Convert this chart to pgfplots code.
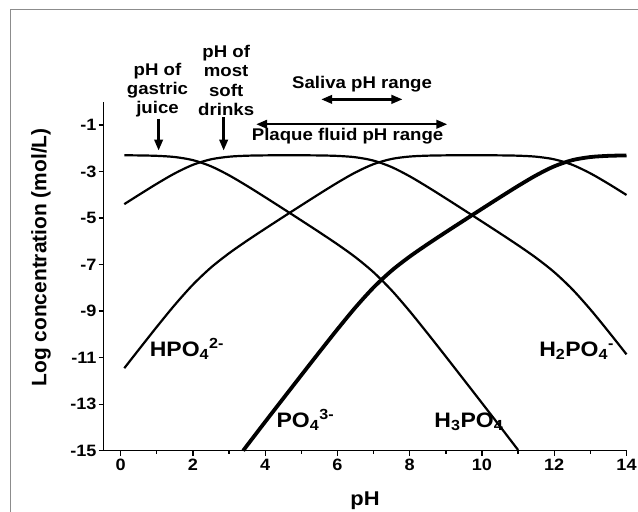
\documentclass[border=0pt]{standalone}
\usepackage{fontspec}
\setmainfont{Liberation Sans}[FakeStretch=1.1]
\newfontfamily\plainfont{Liberation Sans}
\usepackage{pgfplots}
\pgfplotsset{compat=1.18}
\usetikzlibrary{arrows.meta}

% log concentration of each phosphate species, total 10^-2.3 mol/L
\pgfplotstableread{
ph    c
0.1  -2.303
0.5  -2.309
1.0  -2.327
1.5  -2.379
2.0  -2.512
2.5  -2.776
3.0  -3.164
3.5  -3.621
4.0  -4.107
4.5  -4.603
5.0  -5.104
5.5  -5.610
6.0  -6.130
6.5  -6.688
7.0  -7.333
7.5  -8.110
8.0  -9.007
8.5  -9.969
9.0  -10.956
9.5  -11.953
10.0 -12.953
10.5 -13.957
11.0 -14.971
}\hthree

\pgfplotstableread{
ph    c
0.1  -4.403
0.5  -4.009
1.0  -3.527
1.5  -3.079
2.0  -2.712
2.5  -2.476
3.0  -2.364
3.5  -2.321
4.0  -2.307
4.5  -2.303
5.0  -2.304
5.5  -2.310
6.0  -2.330
6.5  -2.388
7.0  -2.533
7.5  -2.810
8.0  -3.207
8.5  -3.669
9.0  -4.156
9.5  -4.653
10.0 -5.153
10.5 -5.657
11.0 -6.171
11.5 -6.714
12.0 -7.327
12.5 -8.062
13.0 -8.929
13.5 -9.877
14.0 -10.859
}\htwo

\pgfplotstableread{
ph    c
0.1  -11.453
0.5  -10.659
1.0  -9.677
1.5  -8.729
2.0  -7.862
2.5  -7.126
3.0  -6.514
3.5  -5.971
4.0  -5.457
4.5  -4.953
5.0  -4.454
5.5  -3.960
6.0  -3.480
6.5  -3.038
7.0  -2.683
7.5  -2.460
8.0  -2.357
8.5  -2.319
9.0  -2.306
9.5  -2.303
10.0 -2.303
10.5 -2.307
11.0 -2.321
11.5 -2.364
12.0 -2.477
12.5 -2.712
13.0 -3.079
13.5 -3.527
14.0 -4.009
}\hone

\pgfplotstableread{
ph    c
3.39 -15.000
3.5  -14.771
4.0  -13.757
4.5  -12.753
5.0  -11.754
5.5  -10.760
6.0  -9.780
6.5  -8.838
7.0  -7.983
7.5  -7.260
8.0  -6.657
8.5  -6.119
9.0  -5.606
9.5  -5.103
10.0 -4.603
10.5 -4.107
11.0 -3.621
11.5 -3.164
12.0 -2.777
12.5 -2.512
13.0 -2.379
13.5 -2.327
14.0 -2.309
}\pofour

\begin{document}
\begin{tikzpicture}
\useasboundingbox (0,0) rectangle (638bp,512bp);
\draw[black!45, line width=1bp] (10.2bp,-20bp) -- (10.2bp,502bp) -- (700bp,502bp);
\begin{axis}[
    at={(103.7bp,61.3bp)}, anchor=south west,
    scale only axis, width=522.8bp, height=349bp,
    xmin=-0.47, xmax=14, ymin=-15, ymax=0,
    axis x line=bottom, axis y line=left,
    axis line style={-, line width=1.3bp},
    xtick={0,2,...,14}, minor xtick={1,3,...,13},
    xticklabels={0,2,4,6,8,10,12,14},
    ytick={-15,-13,...,-1},
    yticklabels={-15,-13,-11,-9,-7,-5,-3,-1},
    tick align=outside,
    major tick length=5bp, minor tick length=3bp,
    every tick/.style={black, line width=1.3bp},
    ticklabel style={font=\fontsize{16.5}{17}\selectfont\bfseries, inner sep=2bp},
    xticklabel style={yshift=-1bp},
    xlabel={pH},
    xlabel style={font=\fontsize{20}{21}\selectfont\bfseries, at={(axis description cs:0.5,-0.156)}, anchor=base},
    ylabel={\plainfont Log concentration (mol/L)},
    ylabel style={font=\fontsize{21}{22}\selectfont\bfseries, at={(axis description cs:-0.12,0.554)}, anchor=center},
    clip=false,
    no marks,
]
\addplot[black, line width=2.2bp, smooth] table[x=ph, y=c] {\hthree};
\addplot[black, line width=2.2bp, smooth] table[x=ph, y=c] {\htwo};
\addplot[black, line width=2.2bp, smooth] table[x=ph, y=c] {\hone};
\addplot[black, line width=3.8bp, smooth] table[x=ph, y=c] {\pofour};

\begin{scope}[every node/.style={font=\fontsize{21}{22}\selectfont\bfseries, inner sep=0pt}]
\node[anchor=base west] at (axis cs:0.8,-10.93) {HPO\textsubscript{4}\textsuperscript{2-}};
\node[anchor=base west] at (axis cs:4.31,-13.99) {PO\textsubscript{4}\textsuperscript{3-}};
\node[anchor=base west] at (axis cs:8.68,-13.99) {H\textsubscript{3}PO\textsubscript{4}};
\node[anchor=base west] at (axis cs:11.58,-10.93) {H\textsubscript{2}PO\textsubscript{4}\textsuperscript{-}};
\end{scope}

\begin{scope}[every node/.style={font=\fontsize{17}{19.5}\selectfont\bfseries, inner sep=0pt, align=center}]
\node at (axis cs:1.02,0.50) {pH of\\gastric\\juice};
\node at (axis cs:2.92,0.92) {pH of\\most\\soft\\drinks};
\node at (axis cs:6.68,0.75) {Saliva pH range};
\node at (axis cs:6.28,-1.47) {Plaque fluid pH range};
\end{scope}

\begin{scope}[line width=2.4bp, arrows={-{Triangle[length=11bp, width=8.5bp]}}]
\draw (axis cs:1.05,-0.74) -- (axis cs:1.05,-2.1);
\draw (axis cs:2.85,-0.67) -- (axis cs:2.85,-2.1);
\end{scope}
\draw[line width=2.4bp, {Triangle[length=11bp, width=8.5bp]}-{Triangle[length=11bp, width=8.5bp]}] (axis cs:5.55,0.10) -- (axis cs:7.8,0.10);
\draw[line width=2.4bp, {Triangle[length=11bp, width=8.5bp]}-{Triangle[length=11bp, width=8.5bp]}] (axis cs:3.75,-0.97) -- (axis cs:9.04,-0.97);
\end{axis}
\end{tikzpicture}
\end{document}
